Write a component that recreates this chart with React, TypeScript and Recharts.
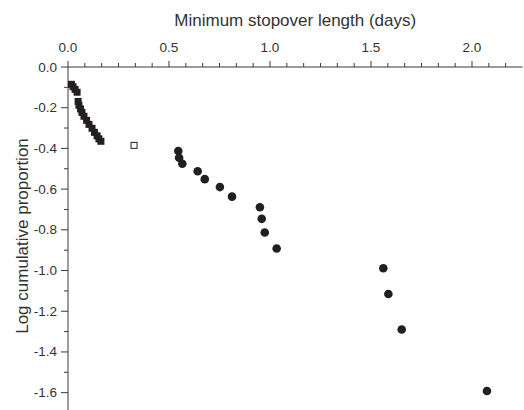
import React from 'react'
import { ScatterChart, Scatter, XAxis, YAxis } from 'recharts'

// stopover data: filled squares (short stays), one open square, filled circles (long stays)
const squareDays = [0.017, 0.025, 0.035, 0.045, 0.05, 0.054, 0.062, 0.069, 0.079, 0.092, 0.104, 0.119, 0.131, 0.144, 0.153, 0.163]
const squareLogProp = [-0.085, -0.097, -0.11, -0.124, -0.169, -0.188, -0.206, -0.223, -0.242, -0.262, -0.282, -0.301, -0.321, -0.338, -0.353, -0.365]

const openDays = [0.327]
const openLogProp = [-0.385]

const circleDays = [0.546, 0.55, 0.566, 0.642, 0.677, 0.752, 0.812, 0.95, 0.959, 0.974, 1.033, 1.561, 1.586, 1.652, 2.074]
const circleLogProp = [-0.413, -0.446, -0.475, -0.512, -0.551, -0.59, -0.637, -0.689, -0.746, -0.813, -0.892, -0.989, -1.115, -1.29, -1.592]

const xMajorTicks = [0, 0.5, 1, 1.5, 2]
const xTickLabels = ['0.0', '0.5', '1.0', '1.5', '2.0']
const yMajorTicks = [0, -0.2, -0.4, -0.6, -0.8, -1.0, -1.2, -1.4, -1.6]
const yTickLabels = ['0.0', '-0.2', '-0.4', '-0.6', '-0.8', '-1.0', '-1.2', '-1.4', '-1.6']

// minor ticks: 5 between x majors, 1 between y majors
const xMinorTicks: number[] = []
for (let k = 1; k <= 26; k++) if (k % 6 !== 0) xMinorTicks.push(k / 12)
const yMinorTicks = [-0.1, -0.3, -0.5, -0.7, -0.9, -1.1, -1.3, -1.5]

const INK = '#231f20'
const AXIS = '#3a3a3a'
const FONT = '"Liberation Sans", Arial, Helvetica, sans-serif'

const toPoints = (xs: number[], ys: number[]) => xs.map((x, i) => ({ x, y: ys[i] }))

function labelFor(v: number, majors: number[], labels: string[]) {
  const i = majors.findIndex((m) => Math.abs(m - v) < 1e-6)
  return i >= 0 ? labels[i] : null
}

function XTick(props: any) {
  const { x, y, payload } = props
  const label = labelFor(payload.value, xMajorTicks, xTickLabels)
  const len = label ? 6 : 4
  return (
    <g>
      <line x1={x} x2={x} y1={y} y2={y - len} stroke={AXIS} strokeWidth={1} />
      {label && (
        <text x={x} y={y - 15} textAnchor="middle" fontSize={13.5} fontFamily={FONT} fill="#333">
          {label}
        </text>
      )}
    </g>
  )
}

function YTick(props: any) {
  const { x, y, payload } = props
  const label = labelFor(payload.value, yMajorTicks, yTickLabels)
  const len = label ? 7 : 4
  return (
    <g>
      <line x1={x} x2={x - len} y1={y} y2={y} stroke={AXIS} strokeWidth={1} />
      {label && (
        <text x={x - 11} y={y + 4.5} textAnchor="end" fontSize={13.5} fontFamily={FONT} fill="#333">
          {label}
        </text>
      )}
    </g>
  )
}

const FilledSquare = (p: any) => <rect x={p.cx - 3.5} y={p.cy - 3.5} width={7} height={7} fill={INK} />
const OpenSquare = (p: any) => (
  <rect x={p.cx - 3} y={p.cy - 3} width={6} height={6} fill="#fff" stroke={INK} strokeWidth={1} />
)
const FilledCircle = (p: any) => <circle cx={p.cx} cy={p.cy} r={4.3} fill={INK} />

export default function App() {
  return (
    <div style={{ position: 'fixed', left: 0, top: 0, width: 524, height: 410, background: '#fff' }}>
      <ScatterChart width={524} height={413} margin={{ top: 0, right: 1.5, bottom: 0, left: 0 }}>
        <XAxis
          type="number"
          dataKey="x"
          orientation="top"
          height={67}
          domain={[0, 2.25]}
          ticks={[...xMajorTicks, ...xMinorTicks].sort((a, b) => a - b)}
          interval={0}
          tickSize={0}
          tickMargin={0}
          tick={<XTick />}
          axisLine={{ stroke: AXIS }}
          allowDataOverflow
          label={{
            value: 'Minimum stopover length (days)',
            position: 'insideTop',
            offset: 14,
            fontSize: 17,
            fontFamily: FONT,
            fill: '#333',
          }}
        />
        <YAxis
          type="number"
          dataKey="y"
          width={68}
          domain={[-1.7, 0]}
          ticks={[...yMajorTicks, ...yMinorTicks].sort((a, b) => b - a)}
          interval={0}
          tickSize={0}
          tickMargin={0}
          tick={<YTick />}
          axisLine={{ stroke: AXIS }}
          allowDataOverflow
          label={{
            value: 'Log cumulative proportion',
            content: () => (
              <text
                x={28}
                y={236}
                transform="rotate(-90 28 236)"
                textAnchor="middle"
                fontSize={17}
                fontFamily={FONT}
                fill="#333"
              >
                Log cumulative proportion
              </text>
            ),
          }}
        />
        <Scatter data={toPoints(squareDays, squareLogProp)} shape={FilledSquare} isAnimationActive={false} />
        <Scatter data={toPoints(openDays, openLogProp)} shape={OpenSquare} isAnimationActive={false} />
        <Scatter data={toPoints(circleDays, circleLogProp)} shape={FilledCircle} isAnimationActive={false} />
      </ScatterChart>
    </div>
  )
}
